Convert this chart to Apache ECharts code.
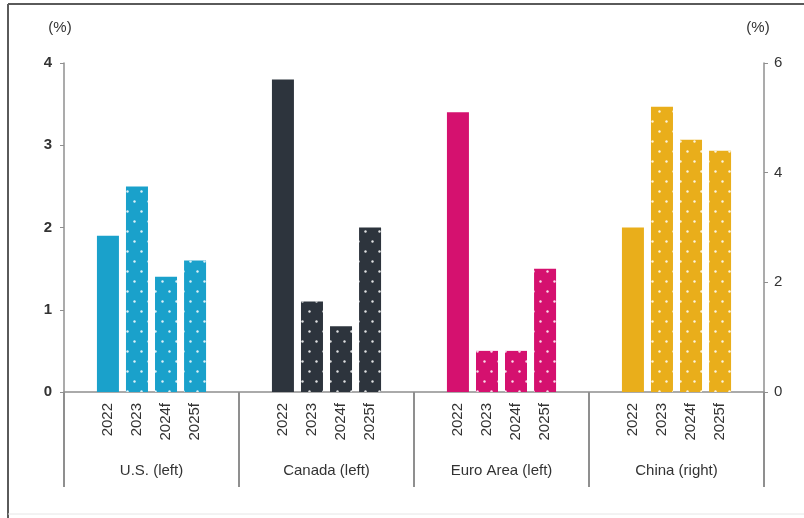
<!DOCTYPE html>
<html>
<head>
<meta charset="utf-8">
<script src="https://cdn.jsdelivr.net/npm/echarts@6/dist/echarts.min.js"></script>
<style>
  html, body { margin: 0; padding: 0; background: #fff; }
  #chart { width: 804px; height: 518px; }
</style>
</head>
<body>
<div id="chart"></div>
<script>
// Real GDP growth by region, actual and forecast
const regions = ['U.S. (left)', 'Canada (left)', 'Euro Area (left)', 'China (right)'];
const years = ['2022', '2023', '2024f', '2025f'];
const regionColors = ['#1aa1cb', '#2d343d', '#d5116f', '#e9ae1b'];

// growth values (%) per year, one entry per region
const growth2022 = [1.9, 3.8, 3.4, 3.0];
const growth2023 = [2.5, 1.1, 0.5, 5.2];
const growth2024f = [1.4, 0.8, 0.5, 4.6];
const growth2025f = [1.6, 2.0, 1.5, 4.4];
const growthByYear = [growth2022, growth2023, growth2024f, growth2025f];

// China is plotted against the right-hand axis
const rightAxisRegion = 3;

const leftTicks = [0, 1, 2, 3, 4];
const rightTicks = [0, 2, 4, 6];

// sparse staggered white dots marking the later years
const dotted = {
  symbol: 'circle',
  symbolSize: 0.8,
  color: 'rgba(255,255,255,0.85)',
  dashArrayX: [[3, 11], [0, 7, 3, 4]],
  dashArrayY: [3, 7]
};

function makeSeries(yearIdx, onRight) {
  const values = growthByYear[yearIdx];
  const data = values.map((v, i) => {
    const belongs = onRight ? i === rightAxisRegion : i !== rightAxisRegion;
    return belongs ? { value: v, itemStyle: { color: regionColors[i] } } : null;
  });
  return {
    type: 'bar',
    name: years[yearIdx],
    xAxisIndex: onRight ? 1 : 0,
    yAxisIndex: onRight ? 1 : 0,
    barWidth: 22,
    barGap: '32%',
    data: data,
    itemStyle: yearIdx === 0 ? {} : { decal: dotted },
    label: {
      show: true,
      position: 'bottom',
      distance: 11,
      rotate: 90,
      align: 'right',
      verticalAlign: 'middle',
      formatter: '{a}',
      color: '#333',
      fontFamily: 'Liberation Sans, Arial, sans-serif',
      fontSize: 15
    }
  };
}

const series = [];
years.forEach((y, k) => series.push(makeSeries(k, false)));
years.forEach((y, k) => series.push(makeSeries(k, true)));

const axisGray = '#8f8f8f';
const textStyle = { color: '#333', fontFamily: 'Liberation Sans, Arial, sans-serif', fontSize: 15 };

const chart = echarts.init(document.getElementById('chart'), null, { renderer: 'canvas' });
chart.setOption({
  animation: false,
  backgroundColor: '#fff',
  grid: { left: 64, right: 40, top: 63, bottom: 126 },
  xAxis: [
    {
      type: 'category',
      data: regions,
      axisLine: { lineStyle: { color: axisGray, width: 1.5 } },
      axisTick: { show: true, length: 95, lineStyle: { color: axisGray, width: 2 } },
      axisLabel: Object.assign({ margin: 71, interval: 0 }, textStyle)
    },
    {
      type: 'category',
      data: regions,
      show: false
    }
  ],
  yAxis: [
    {
      type: 'value',
      min: 0, max: leftTicks[leftTicks.length - 1], interval: 1,
      name: '(%)',
      nameLocation: 'end',
      nameGap: 28,
      nameTextStyle: Object.assign({ padding: [0, 8, 0, 0] }, textStyle),
      axisLine: { show: true, lineStyle: { color: axisGray, width: 1.5 } },
      axisTick: { show: true, length: 4, lineStyle: { color: axisGray } },
      axisLabel: Object.assign({ margin: 12, fontWeight: 'bold' }, textStyle),
      splitLine: { show: false }
    },
    {
      type: 'value',
      min: 0, max: rightTicks[rightTicks.length - 1], interval: 2,
      name: '(%)',
      nameLocation: 'end',
      nameGap: 28,
      nameTextStyle: Object.assign({ padding: [0, 0, 0, -12] }, textStyle),
      position: 'right',
      axisLine: { show: true, lineStyle: { color: axisGray, width: 1.5 } },
      axisTick: { show: true, length: 4, lineStyle: { color: axisGray } },
      axisLabel: Object.assign({ margin: 10 }, textStyle),
      splitLine: { show: false }
    }
  ],
  graphic: [
    { type: 'line', shape: { x1: 8, y1: 4, x2: 804, y2: 4 }, style: { stroke: '#5a5a5a', lineWidth: 2 } },
    { type: 'line', shape: { x1: 8, y1: 4, x2: 8, y2: 518 }, style: { stroke: '#5a5a5a', lineWidth: 2 } },
    { type: 'line', shape: { x1: 8, y1: 514, x2: 804, y2: 514 }, style: { stroke: '#e6e6e6', lineWidth: 1 } }
  ],
  series: series
});
</script>
</body>
</html>
